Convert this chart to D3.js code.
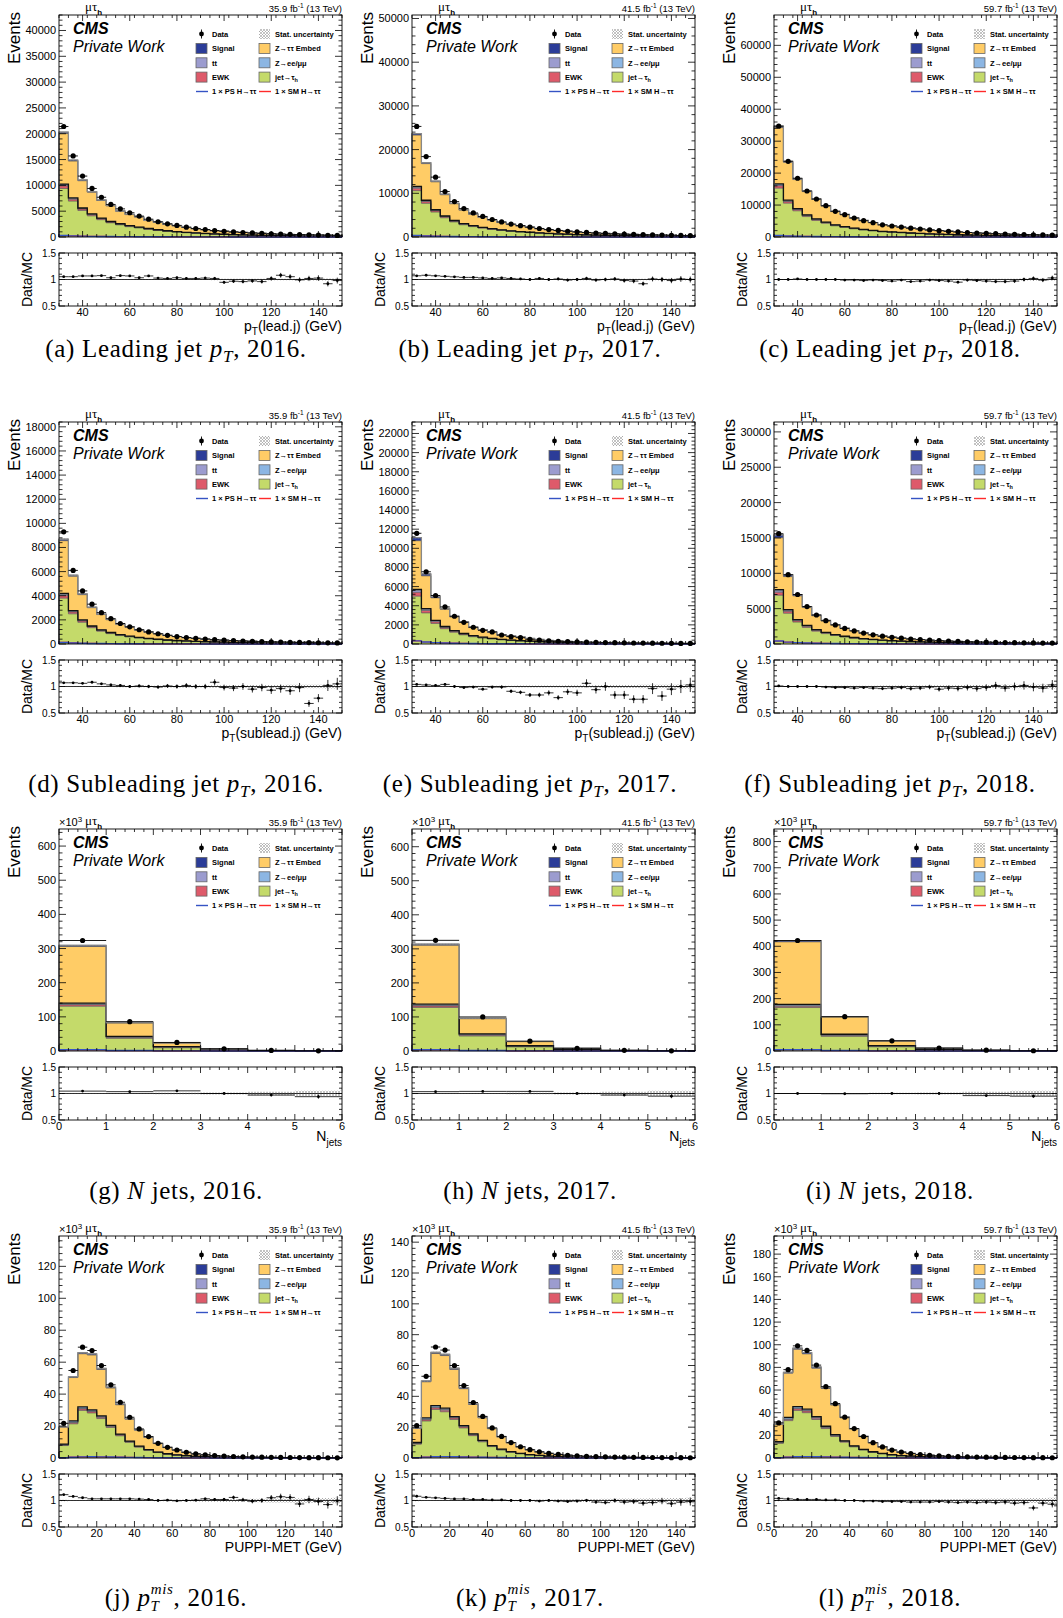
<!DOCTYPE html>
<html><head><meta charset="utf-8">
<script src="https://cdn.jsdelivr.net/npm/d3@7"></script>
<style>body{margin:0;background:#fff} svg text{fill:#000}</style>
</head><body><svg id="c" width="1063" height="1618" font-family="Liberation Sans, Arial, sans-serif"></svg>
<script>
// ---------------- bin edges & tick labels ----------------
const ptEdges=[30,34,38,42,46,50,54,58,62,66,70,74,78,82,86,90,94,98,102,106,110,114,118,122,126,130,134,138,142,146,150];
const metEdges=[0,5,10,15,20,25,30,35,40,45,50,55,60,65,70,75,80,85,90,95,100,105,110,115,120,125,130,135,140,145,150];
const njEdges=[0,1,2,3,4,5,6];
const ptTicks=[40,60,80,100,120,140];
const metTicks=[0,20,40,60,80,100,120,140];
const njTicks=[0,1,2,3,4,5,6];
const ratioTicks=[0.5,1,1.5];
const yTicksA=[0,5000,10000,15000,20000,25000,30000,35000,40000];
const yTicksB=[0,10000,20000,30000,40000,50000];
const yTicksC=[0,10000,20000,30000,40000,50000,60000];
const yTicksD=[0,2000,4000,6000,8000,10000,12000,14000,16000,18000];
const yTicksE=[0,2000,4000,6000,8000,10000,12000,14000,16000,18000,20000,22000];
const yTicksF=[0,5000,10000,15000,20000,25000,30000];
const yTicksG=[0,100,200,300,400,500,600];
const yTicksI=[0,100,200,300,400,500,600,700,800];
const yTicksJ=[0,20,40,60,80,100,120];
const yTicksK=[0,20,40,60,80,100,120,140];
const yTicksL=[0,20,40,60,80,100,120,140,160,180];

// ---------------- leading jet pT ----------------
const leadData16=[21400,15700,11800,9400,7700,6300,5450,4700,4050,3450,2950,2550,2250,1900,1650,1450,1250,1100,980,870,780,700,630,570,510,460,420,380,340,310];
const leadRatio16=[1.053,1.053,1.067,1.067,1.073,1.033,1.073,1.067,1.033,1.067,1.027,1.02,1.033,1.02,1.02,1.027,1.02,0.947,0.967,0.96,0.973,0.96,1.02,1.08,1.053,0.993,1.02,1.027,0.92,0.98];
const leadFakes16=[9400,6950,5150,4100,3350,2750,2350,2000,1750,1500,1280,1100,960,820,710,620,540,480,430,380,340,300,270,245,220,200,180,165,150,135];
const leadEwk16=[500,370,270,215,175,145,125,110,95,80,70,62,54,46,40,35,30,27,25,22,20,18,16,14,13,12,11,10,9,8];
const leadTT16=[150,110,85,70,58,50,44,40,35,31,28,25,22,19,17,15,14,12,11,10,9,8,7,7,6,6,5,5,5,4];
const leadZll16=[200,150,110,90,72,60,50,43,37,32,27,23,20,17,15,13,11,10,9,8,7,6,6,5,5,4,4,4,3,3];
const leadSig16=[280,210,160,130,105,88,75,64,56,48,41,36,31,27,23,20,18,16,14,12,11,10,9,8,7,6,6,5,5,4];

const leadData17=[25300,18400,13700,10400,8100,6500,5500,4700,4000,3450,2950,2600,2250,1950,1700,1500,1320,1170,1040,920,820,730,650,590,530,480,430,390,350,320];
const leadRatio17=[1.07,1.08,1.07,1.06,1.05,1.04,1.04,1.03,1.02,1.03,1.02,1.01,1.0,1.02,1.0,1.01,0.99,1.0,1.02,0.99,1.0,1.01,0.98,0.97,0.92,1.01,1.0,0.98,1.01,1.0];
const leadFakes17=[10600,7700,5700,4400,3450,2800,2380,2030,1740,1500,1290,1140,990,860,750,660,580,515,460,410,365,325,290,262,236,214,192,175,158,144];
const leadEwk17=[560,410,300,230,180,145,122,104,90,77,66,58,50,44,38,34,30,26,23,21,19,17,15,13,12,11,10,9,8,7];
const leadTT17=[180,130,100,80,66,56,49,43,38,33,29,26,23,20,18,16,14,13,12,11,10,9,8,7,7,6,6,5,5,4];
const leadZll17=[240,175,130,100,80,65,55,47,40,35,30,26,22,19,17,15,13,11,10,9,8,7,6,6,5,5,4,4,4,3];
const leadSig17=[330,245,185,145,115,95,80,68,58,50,43,38,33,28,25,22,19,17,15,13,12,10,9,8,7,7,6,6,5,5];

const leadData18=[34700,23700,18400,14400,11900,9800,8050,7000,5950,5100,4500,3800,3450,3100,2750,2500,2200,1990,1780,1580,1400,1260,1150,1040,940,850,780,710,640,590];
const leadRatio18=[1.0,1.0,1.01,1.0,1.0,1.0,1.0,0.99,0.99,0.98,0.99,0.98,0.97,0.99,0.96,0.97,0.99,0.98,0.97,0.95,0.99,0.98,0.97,0.96,0.96,0.97,1.0,1.02,0.99,1.03];
const leadFakes18=[15300,10600,8200,6400,5200,4300,3500,3000,2550,2180,1900,1600,1450,1300,1150,1040,910,820,730,650,575,515,470,425,385,348,318,290,262,240];
const leadEwk18=[750,520,400,315,260,215,175,150,128,110,97,82,74,66,59,53,47,42,38,34,30,27,24,22,20,18,16,15,14,12];
const leadTT18=[240,170,130,100,84,70,58,50,43,37,32,28,25,22,20,18,16,14,13,11,10,9,8,8,7,6,6,5,5,4];
const leadZll18=[330,230,180,140,115,95,78,67,57,49,43,36,33,29,26,24,21,19,17,15,13,12,11,10,9,8,7,7,6,6];
const leadSig18=[450,310,240,190,155,128,105,91,78,67,59,50,45,40,36,33,29,26,23,21,18,16,15,14,12,11,10,9,8,8];

// ---------------- subleading jet pT ----------------
const subData16=[9300,6100,4400,3300,2600,2100,1700,1420,1180,1000,850,720,620,540,470,410,360,320,280,250,220,195,175,158,142,128,115,104,95,86];
const subRatio16=[1.07,1.07,1.06,1.08,1.05,1.03,1.02,1.0,1.01,1.0,0.99,1.01,1.0,1.02,1.0,1.0,1.08,0.98,0.97,1.0,0.95,0.98,0.93,0.96,0.92,0.98,0.68,0.78,1.02,1.05];
const subFakes16=[3800,2500,1800,1350,1060,860,700,585,490,415,355,300,260,226,197,172,151,134,118,105,93,83,74,67,60,54,49,44,40,36];
const subEwk16=[230,150,110,82,65,52,42,35,29,25,21,18,16,14,12,10,9,8,7,6,6,5,5,4,4,3,3,3,3,2];
const subTT16=[80,55,40,30,24,20,16,14,12,10,9,8,7,6,5,5,4,4,3,3,3,3,2,2,2,2,2,2,2,1];
const subZll16=[90,60,43,32,25,20,16,14,11,10,8,7,6,5,5,4,4,3,3,3,2,2,2,2,2,2,1,1,1,1];
const subSig16=[130,85,62,46,36,29,24,20,16,14,12,10,9,8,7,6,5,5,4,4,3,3,3,3,2,2,2,2,2,2];

const subData17=[11570,7550,5070,3880,2900,2270,1750,1430,1260,940,770,660,490,400,330,290,250,220,195,172,152,135,120,107,96,87,79,72,65,59];
const subRatio17=[1.04,1.03,1.02,1.04,1.0,0.98,0.99,0.95,0.99,0.99,0.91,0.89,0.84,0.84,0.88,0.79,0.9,0.88,1.06,0.94,1.0,0.84,0.84,0.76,0.76,0.96,0.82,0.95,1.0,1.03];
const subFakes17=[5000,3250,2150,1600,1230,960,760,620,520,430,360,310,265,225,195,170,148,130,114,101,89,79,70,63,56,50,45,41,37,33];
const subEwk17=[400,250,170,125,95,75,58,48,40,33,28,24,20,17,15,13,11,10,9,8,7,6,5,5,4,4,4,3,3,3];
const subTT17=[200,130,90,68,52,41,33,27,23,19,16,14,12,10,9,8,7,6,5,5,4,4,3,3,3,3,2,2,2,2];
const subZll17=[110,72,50,37,28,22,18,15,12,10,9,7,6,5,5,4,4,3,3,3,2,2,2,2,2,2,1,1,1,1];
const subSig17=[330,210,145,108,82,64,50,41,34,28,23,19,16,13,11,10,9,8,7,6,5,5,4,4,3,3,3,3,2,2];

const subData18=[15600,9800,7000,5300,4100,3300,2700,2200,1850,1550,1300,1100,950,820,710,620,540,470,410,360,320,285,255,228,205,185,167,150,136,124];
const subRatio18=[1.01,1.0,1.0,1.0,1.0,0.99,0.98,0.98,0.97,0.98,0.97,0.96,0.97,0.98,0.96,0.97,0.99,0.95,0.97,0.96,0.98,0.96,0.98,1.02,0.97,1.0,1.02,0.99,0.97,1.03];
const subFakes18=[6900,4350,3100,2350,1820,1470,1200,980,825,690,580,490,425,365,318,277,242,210,183,161,143,127,114,102,92,83,75,67,61,55];
const subEwk18=[420,265,190,145,112,90,74,60,51,43,36,30,26,23,20,17,15,13,11,10,9,8,7,6,6,5,5,4,4,3];
const subTT18=[220,140,100,76,59,48,39,32,27,22,19,16,14,12,10,9,8,7,6,5,5,4,4,3,3,3,2,2,2,2];
const subZll18=[150,95,68,52,40,32,26,21,18,15,13,11,9,8,7,6,5,5,4,4,3,3,2,2,2,2,2,1,1,1];
const subSig18=[420,265,190,145,112,90,74,60,51,43,36,30,26,23,20,17,15,13,11,10,9,8,7,6,6,5,5,4,4,3];

// ---------------- N jets (x10^3) ----------------
const njData16=[323.5,86,25,6.5,1.7,0.6];
const njRatio16=[1.045,1.035,1.05,1.0,0.97,0.94];
const njFakes16=[131,37,9.5,2.8,0.8,0.3];
const njEwk16=[4.5,2.5,1.2,0.4,0.1,0.04];
const njTT16=[1.5,2,1.5,0.7,0.25,0.1];
const njZll16=[3,1.2,0.4,0.1,0.03,0.01];
const njSig16=[3.5,1.3,0.5,0.15,0.05,0.02];

const njData17=[325,100,29,8,2,0.6];
const njRatio17=[1.035,1.04,1.04,1.0,0.97,0.95];
const njFakes17=[128,44,12,3,0.9,0.3];
const njEwk17=[4,2.5,1.3,0.4,0.1,0.04];
const njTT17=[1.5,2.2,1.6,0.8,0.3,0.1];
const njZll17=[4,1.5,0.5,0.15,0.04,0.01];
const njSig17=[3.5,1.4,0.5,0.15,0.05,0.02];

const njData18=[422,131,39,11,3,0.9];
const njRatio18=[1.0,0.995,1.0,1.0,0.96,0.95];
const njFakes18=[166,56,16,4.5,1.3,0.4];
const njEwk18=[5,3,1.6,0.5,0.15,0.05];
const njTT18=[2,3,2,1,0.35,0.12];
const njZll18=[5,2,0.6,0.2,0.05,0.02];
const njSig18=[5,1.8,0.6,0.2,0.06,0.02];

// ---------------- PUPPI-MET (x10^3) ----------------
const metData16=[21.7,54.8,69.4,67.3,57.9,45.8,34.9,25.5,18.2,13.4,9.2,6.7,5.0,3.6,2.6,2.0,1.55,1.2,0.95,0.75,0.6,0.5,0.42,0.35,0.3,0.25,0.21,0.18,0.15,0.13];
const metRatio16=[1.11,1.077,1.052,1.032,1.032,1.032,1.032,1.032,1.026,1.019,1.0,1.006,0.994,1.0,1.006,1.032,1.019,1.019,1.058,1.013,0.987,1.0,1.052,1.071,1.058,0.935,1.019,0.981,0.923,0.994];
const metFakes16=[7.8,21.4,29.8,28.2,24.7,19.1,13.9,9.8,6.8,4.8,3.4,2.4,1.75,1.3,0.95,0.72,0.56,0.44,0.35,0.28,0.23,0.19,0.16,0.13,0.11,0.1,0.085,0.075,0.065,0.057];
const metEwk16=[0.3,0.7,0.9,0.9,0.8,0.65,0.5,0.38,0.28,0.21,0.16,0.12,0.09,0.07,0.055,0.045,0.037,0.03,0.025,0.02,0.017,0.015,0.013,0.011,0.01,0.009,0.008,0.007,0.006,0.005];
const metTT16=[0.1,0.25,0.35,0.38,0.36,0.32,0.27,0.22,0.18,0.15,0.12,0.1,0.08,0.065,0.055,0.045,0.038,0.032,0.027,0.023,0.02,0.017,0.015,0.013,0.011,0.01,0.009,0.008,0.007,0.006];
const metZll16=[0.5,0.9,0.9,0.7,0.5,0.35,0.25,0.17,0.12,0.08,0.06,0.04,0.03,0.022,0.016,0.012,0.01,0.008,0.006,0.005,0.004,0.003,0.003,0.002,0.002,0.002,0.001,0.001,0.001,0.001];
const metSig16=[0.2,0.5,0.7,0.75,0.7,0.6,0.5,0.4,0.3,0.24,0.18,0.14,0.11,0.08,0.06,0.05,0.04,0.03,0.025,0.02,0.017,0.014,0.012,0.01,0.008,0.007,0.006,0.005,0.004,0.004];

const metData17=[21,53,72,70,60,47,36,27,19.5,14,10,7.3,5.4,4,3,2.3,1.8,1.4,1.1,0.9,0.75,0.62,0.52,0.44,0.37,0.31,0.27,0.23,0.2,0.17];
const metRatio17=[1.08,1.06,1.05,1.04,1.03,1.03,1.02,1.02,1.01,1.01,1.0,1.0,1.0,0.99,1.0,0.99,0.98,0.99,1.0,0.97,0.96,1.0,0.97,0.98,0.95,0.96,0.99,0.94,0.97,0.98];
const metFakes17=[9,24,31.5,30,25,19.5,14.5,10.5,7.4,5.2,3.7,2.7,2,1.5,1.1,0.85,0.66,0.52,0.41,0.33,0.27,0.23,0.19,0.16,0.14,0.12,0.1,0.085,0.075,0.065];
const metEwk17=[0.35,0.8,1.05,1.05,0.9,0.75,0.58,0.44,0.32,0.24,0.18,0.14,0.1,0.08,0.063,0.052,0.043,0.035,0.029,0.023,0.02,0.017,0.015,0.013,0.011,0.01,0.009,0.008,0.007,0.006];
const metTT17=[0.12,0.29,0.4,0.44,0.41,0.37,0.31,0.25,0.21,0.17,0.14,0.115,0.09,0.075,0.063,0.052,0.044,0.037,0.031,0.026,0.023,0.02,0.017,0.015,0.013,0.011,0.01,0.009,0.008,0.007];
const metZll17=[0.6,1.0,1.0,0.8,0.58,0.4,0.29,0.2,0.14,0.09,0.07,0.05,0.035,0.025,0.018,0.014,0.011,0.009,0.007,0.006,0.005,0.004,0.003,0.003,0.002,0.002,0.002,0.001,0.001,0.001];
const metSig17=[0.23,0.58,0.8,0.86,0.8,0.69,0.58,0.46,0.35,0.28,0.21,0.16,0.13,0.09,0.07,0.058,0.046,0.035,0.029,0.023,0.02,0.016,0.014,0.012,0.009,0.008,0.007,0.006,0.005,0.005];

const metData18=[31,78,99,95,82,63,48,36,26,19,13.5,9.8,7,5.2,3.9,3,2.4,1.9,1.5,1.2,1,0.85,0.7,0.6,0.5,0.43,0.37,0.32,0.28,0.24];
const metRatio18=[1.04,1.03,1.02,1.02,1.02,1.01,1.01,1.0,1.0,0.99,0.99,0.98,0.98,0.98,0.97,0.97,0.97,0.98,0.97,0.96,0.97,0.96,0.97,0.96,0.97,0.95,0.96,0.86,0.95,0.93];
const metFakes18=[13,33,42,40,34,26,19,14,9.8,7,5,3.6,2.6,1.95,1.45,1.1,0.86,0.68,0.54,0.43,0.35,0.29,0.24,0.2,0.17,0.145,0.125,0.11,0.095,0.082];
const metEwk18=[0.45,1.1,1.4,1.4,1.2,0.95,0.75,0.57,0.42,0.31,0.24,0.18,0.13,0.1,0.08,0.067,0.055,0.045,0.037,0.03,0.026,0.022,0.019,0.016,0.014,0.012,0.011,0.01,0.009,0.008];
const metTT18=[0.17,0.4,0.55,0.6,0.57,0.5,0.42,0.34,0.28,0.23,0.19,0.16,0.12,0.1,0.085,0.07,0.06,0.05,0.042,0.036,0.031,0.027,0.023,0.02,0.017,0.015,0.013,0.012,0.011,0.01];
const metZll18=[0.8,1.4,1.4,1.1,0.8,0.56,0.4,0.28,0.19,0.13,0.1,0.07,0.05,0.035,0.025,0.02,0.015,0.012,0.01,0.008,0.007,0.006,0.005,0.004,0.003,0.003,0.002,0.002,0.002,0.001];
const metSig18=[0.3,0.8,1.1,1.2,1.1,0.95,0.8,0.63,0.48,0.38,0.29,0.22,0.17,0.13,0.1,0.08,0.064,0.05,0.04,0.032,0.027,0.022,0.019,0.016,0.013,0.011,0.01,0.009,0.008,0.007];

// relative MC stat. uncertainty
const uncLead=[0.004,0.004,0.005,0.005,0.006,0.006,0.007,0.007,0.008,0.008,0.009,0.009,0.01,0.01,0.011,0.011,0.012,0.012,0.013,0.013,0.014,0.014,0.015,0.015,0.016,0.016,0.017,0.017,0.018,0.018];
const uncSub=[0.006,0.007,0.008,0.009,0.01,0.011,0.012,0.013,0.014,0.015,0.016,0.017,0.018,0.019,0.02,0.021,0.022,0.023,0.024,0.025,0.026,0.027,0.028,0.03,0.031,0.032,0.034,0.035,0.037,0.038];
const uncNj=[0.003,0.006,0.012,0.02,0.035,0.05];
const uncMet=[0.012,0.006,0.005,0.005,0.005,0.006,0.007,0.008,0.009,0.01,0.012,0.014,0.016,0.018,0.02,0.022,0.024,0.026,0.028,0.03,0.032,0.034,0.036,0.038,0.04,0.042,0.044,0.046,0.048,0.05];

const lumis=['35.9','41.5','59.7'];
const years=['2016','2017','2018'];
const COL={sig:'#2b3c98',tt:'#9c9ccf',ewk:'#de5a6a',ztt:'#ffcc66',zll:'#8cb6e3',fakes:'#c4da6a'};

// ---------------- layout ----------------
const colX=[59,412,774], rowY=[0,407,814,1221], W=283;
const capX=[176,530,890], capY=[357,792,1199,1606];
const SERIF='"Liberation Serif","DejaVu Serif",serif';
const SANS='"Liberation Sans",Arial,sans-serif';

const svg=d3.select('#c');
svg.append('rect').attr('width',1063).attr('height',1618).attr('fill','#fff');
const defs=svg.append('defs');
const pat=defs.append('pattern').attr('id','hatch').attr('patternUnits','userSpaceOnUse').attr('width',3).attr('height',3);
pat.append('path').attr('d','M0,0L3,3M3,0L0,3').attr('stroke','#9a9a9a').attr('stroke-width',0.6);

function P(id,col,row,type,d,yticks,ymax,yminor){return {id,col,row,type,...d,yticks,ymax,yminor};}
function set(data,ratio,fakes,ewk,tt,zll,sig){return {data,ratio,fakes,ewk,tt,zll,sig};}

const panels=[
 P('a',0,0,'lead',set(leadData16,leadRatio16,leadFakes16,leadEwk16,leadTT16,leadZll16,leadSig16),yTicksA,43000,1000),
 P('b',1,0,'lead',set(leadData17,leadRatio17,leadFakes17,leadEwk17,leadTT17,leadZll17,leadSig17),yTicksB,50800,2000),
 P('c',2,0,'lead',set(leadData18,leadRatio18,leadFakes18,leadEwk18,leadTT18,leadZll18,leadSig18),yTicksC,69500,2000),
 P('d',0,1,'sub',set(subData16,subRatio16,subFakes16,subEwk16,subTT16,subZll16,subSig16),yTicksD,18400,400),
 P('e',1,1,'sub',set(subData17,subRatio17,subFakes17,subEwk17,subTT17,subZll17,subSig17),yTicksE,23200,400),
 P('f',2,1,'sub',set(subData18,subRatio18,subFakes18,subEwk18,subTT18,subZll18,subSig18),yTicksF,31400,1000),
 P('g',0,2,'nj',set(njData16,njRatio16,njFakes16,njEwk16,njTT16,njZll16,njSig16),yTicksG,650,20),
 P('h',1,2,'nj',set(njData17,njRatio17,njFakes17,njEwk17,njTT17,njZll17,njSig17),yTicksG,652,20),
 P('i',2,2,'nj',set(njData18,njRatio18,njFakes18,njEwk18,njTT18,njZll18,njSig18),yTicksI,848,20),
 P('j',0,3,'met',set(metData16,metRatio16,metFakes16,metEwk16,metTT16,metZll16,metSig16),yTicksJ,139,4),
 P('k',1,3,'met',set(metData17,metRatio17,metFakes17,metEwk17,metTT17,metZll17,metSig17),yTicksK,144,4),
 P('l',2,3,'met',set(metData18,metRatio18,metFakes18,metEwk18,metTT18,metZll18,metSig18),yTicksL,196,4)
];

const TYPES={
 lead:{edges:ptEdges,xticks:ptTicks,dom:[30,150],minor:4,unc:uncLead,k:1},
 sub:{edges:ptEdges,xticks:ptTicks,dom:[30,150],minor:4,unc:uncSub,k:1},
 nj:{edges:njEdges,xticks:njTicks,dom:[0,6],minor:0.2,unc:uncNj,k:1000},
 met:{edges:metEdges,xticks:metTicks,dom:[0,150],minor:5,unc:uncMet,k:1000}
};

function drawPanel(p){
 const T=TYPES[p.type];
 const L=colX[p.col], R=rowY[p.row];
 const g=svg.append('g');
 const x=d3.scaleLinear().domain(T.dom).range([L,L+W]);
 const y=d3.scaleLinear().domain([0,p.ymax]).range([R+237,R+15]);
 const yr=d3.scaleLinear().domain([0.5,1.5]).range([R+306,R+253]);
 const E=T.edges, n=p.data.length;
 const total=p.data.map((d,i)=>d/p.ratio[i]);
 const ztt=total.map((t,i)=>Math.max(0,t-p.fakes[i]-p.ewk[i]-p.tt[i]-p.zll[i]-p.sig[i]));
 const layers=[
  {v:p.fakes,c:COL.fakes},{v:p.ewk,c:COL.ewk},{v:p.tt,c:COL.tt},{v:p.zll,c:COL.zll},{v:ztt,c:COL.ztt},{v:p.sig,c:COL.sig}
 ];
 let base=new Array(n).fill(0);
 layers.forEach(l=>{l.lo=base;l.hi=base.map((b,i)=>b+l.v[i]);base=l.hi;});
 const pts=(lo,hi)=>{const a=[];for(let i=0;i<n;i++){a.push({x:E[i],lo:lo[i],hi:hi[i]});a.push({x:E[i+1],lo:lo[i],hi:hi[i]});}return a;};
 const area=d3.area().x(d=>x(d.x)).y0(d=>y(d.lo)).y1(d=>y(d.hi));
 const line=d3.line().x(d=>x(d.x)).y(d=>y(d.hi));
 layers.forEach(l=>{
  g.append('path').attr('d',area(pts(l.lo,l.hi))).attr('fill',l.c).attr('stroke','none');
 });
 layers.forEach((l,li)=>{
  const closed=[{x:E[0],hi:0},...pts(l.lo,l.hi),{x:E[n],hi:0}];
  g.append('path').attr('d',line(closed)).attr('fill','none')
   .attr('stroke',li===3?'#111':'#555').attr('stroke-width',li===3?1.3:0.7);
 });
 // stat. uncertainty band
 const uLo=total.map((t,i)=>t*(1-T.unc[i])), uHi=total.map((t,i)=>t*(1+T.unc[i]));
 g.append('path').attr('d',area(pts(uLo,uHi))).attr('fill','url(#hatch)');
 g.append('path').attr('d',line([{x:E[0],hi:0},...pts(total,total),{x:E[n],hi:0}])).attr('fill','none').attr('stroke','#888').attr('stroke-width',1.2);
 // signal lines (unstacked)
 const sl=[{x:E[0],hi:0},...pts(p.sig,p.sig),{x:E[n],hi:0}];
 g.append('path').attr('d',line(sl)).attr('fill','none').attr('stroke','#ff2a2a').attr('stroke-width',1.2);
 g.append('path').attr('d',line(sl)).attr('fill','none').attr('stroke','#3553c4').attr('stroke-width',1.4);
 // data points
 for(let i=0;i<n;i++){
  const cx=x((E[i]+E[i+1])/2), v=p.data[i];
  const err=Math.sqrt(v*T.k)/T.k;
  g.append('line').attr('x1',x(E[i])).attr('x2',x(E[i+1])).attr('y1',y(v)).attr('y2',y(v)).attr('stroke','#000').attr('stroke-width',0.9);
  g.append('line').attr('x1',cx).attr('x2',cx).attr('y1',y(v+err)).attr('y2',y(Math.max(0,v-err))).attr('stroke','#000').attr('stroke-width',0.9);
  g.append('circle').attr('cx',cx).attr('cy',y(v)).attr('r',2.6).attr('fill','#000');
 }
 // frames
 g.append('rect').attr('x',L).attr('y',R+15).attr('width',W).attr('height',222).attr('fill','none').attr('stroke','#000').attr('stroke-width',0.9);
 g.append('rect').attr('x',L).attr('y',R+253).attr('width',W).attr('height',53).attr('fill','none').attr('stroke','#000').attr('stroke-width',0.9);
 // ticks
 let tp='';
 const xMinor=[];for(let v=T.dom[0];v<=T.dom[1]+1e-9;v+=T.minor)xMinor.push(+v.toFixed(4));
 const isMajor=v=>T.xticks.some(t=>Math.abs(t-v)<1e-6);
 xMinor.forEach(v=>{
  const px=x(v), lm=isMajor(v)?6:3;
  tp+=`M${px},${R+237}v${-lm}M${px},${R+15}v${lm}`;
  tp+=`M${px},${R+306}v${-lm}M${px},${R+253}v${lm}`;
 });
 T.xticks.forEach(v=>{if(!xMinor.some(m=>Math.abs(m-v)<1e-6)){const px=x(v);tp+=`M${px},${R+237}v-6M${px},${R+15}v6M${px},${R+306}v-6M${px},${R+253}v6`;}});
 for(let v=0;v<=p.ymax+1e-9;v+=p.yminor){
  const py=y(v), maj=p.yticks.some(t=>Math.abs(t-v)<1e-6), lm=maj?7:3.5;
  tp+=`M${L},${py}h${lm}M${L+W},${py}h${-lm}`;
 }
 for(let v=0.5;v<=1.5001;v+=0.1){
  const py=yr(v), maj=ratioTicks.some(t=>Math.abs(t-v)<1e-6), lm=maj?6:3;
  tp+=`M${L},${py}h${lm}M${L+W},${py}h${-lm}`;
 }
 g.append('path').attr('d',tp).attr('stroke','#000').attr('stroke-width',0.8).attr('fill','none');
 // y tick labels
 p.yticks.forEach(v=>{
  g.append('text').attr('x',L-3).attr('y',y(v)+4).attr('text-anchor','end').attr('font-size',11).text(v);
 });
 ratioTicks.forEach(v=>{
  g.append('text').attr('x',L-3).attr('y',yr(v)+3.5).attr('text-anchor','end').attr('font-size',10).text(v);
 });
 T.xticks.forEach(v=>{
  g.append('text').attr('x',x(v)).attr('y',R+316).attr('text-anchor','middle').attr('font-size',11).text(v);
 });
 // ratio panel content
 const rlo=T.unc.map(u=>1-u), rhi=T.unc.map(u=>1+u);
 const rArea=d3.area().x(d=>x(d.x)).y0(d=>yr(d.lo)).y1(d=>yr(d.hi));
 g.append('path').attr('d',rArea(pts(rlo,rhi))).attr('fill','url(#hatch)');
 g.append('line').attr('x1',L).attr('x2',L+W).attr('y1',yr(1)).attr('y2',yr(1)).attr('stroke','#000').attr('stroke-width',0.8);
 for(let i=0;i<n;i++){
  const cx=x((E[i]+E[i+1])/2), r=p.ratio[i];
  const e=r/Math.sqrt(p.data[i]*T.k);
  g.append('line').attr('x1',x(E[i])).attr('x2',x(E[i+1])).attr('y1',yr(r)).attr('y2',yr(r)).attr('stroke','#000').attr('stroke-width',0.8);
  g.append('line').attr('x1',cx).attr('x2',cx).attr('y1',yr(Math.min(1.5,r+e))).attr('y2',yr(Math.max(0.5,r-e))).attr('stroke','#000').attr('stroke-width',0.8);
  g.append('circle').attr('cx',cx).attr('cy',yr(r)).attr('r',1.4).attr('fill','#000');
 }
 // axis titles
 g.append('text').attr('transform',`translate(${L-39},${R+12}) rotate(-90)`).attr('text-anchor','end').attr('font-size',17).text('Events');
 g.append('text').attr('transform',`translate(${L-27},${R+279.5}) rotate(-90)`).attr('text-anchor','middle').attr('font-size',14).text('Data/MC');
 const xt=g.append('text').attr('x',L+W).attr('y',R+331).attr('text-anchor','end').attr('font-size',14);
 if(p.type==='lead'||p.type==='sub'){
  xt.append('tspan').text('p');xt.append('tspan').attr('font-size',10).attr('dy',4).text('T');
  xt.append('tspan').attr('dy',-4).text(p.type==='lead'?'(lead.j) (GeV)':'(sublead.j) (GeV)');
 } else if(p.type==='nj'){
  xt.attr('y',R+327);xt.append('tspan').text('N');xt.append('tspan').attr('font-size',10).attr('dy',5).text('jets');
 } else {xt.text('PUPPI-MET (GeV)');}
 // top labels
 if(p.type==='nj'||p.type==='met'){
  const sc=g.append('text').attr('x',L).attr('y',R+12).attr('font-size',11);
  sc.append('tspan').text('×10');sc.append('tspan').attr('font-size',8).attr('dy',-4).text('3');
 }
 const ch=g.append('text').attr('x',L+26).attr('y',R+11).attr('font-size',13).style('font-family',SERIF);
 ch.append('tspan').text('μτ');ch.append('tspan').attr('font-size',8).attr('font-weight','bold').style('font-family',SANS).attr('dy',4).text('h');
 const lu=g.append('text').attr('x',L+W).attr('y',R+12).attr('text-anchor','end').attr('font-size',9.5);
 lu.append('tspan').text(lumis[p.col]+' fb');lu.append('tspan').attr('font-size',6.5).attr('dy',-4).text('-1');lu.append('tspan').attr('dy',4).text(' (13 TeV)');
 g.append('text').attr('x',L+14).attr('y',R+34).attr('font-size',16).attr('font-weight','bold').attr('font-style','italic').text('CMS');
 g.append('text').attr('x',L+14).attr('y',R+52).attr('font-size',16).attr('font-style','italic').text('Private Work');
 // legend
 const ly=[R+34,R+48.4,R+62.8,R+77.1,R+91.5], c1=L+137, c2=L+200;
 const lt=(xx,yy,s,sub)=>{const t=g.append('text').attr('x',xx+16).attr('y',yy+2.7).attr('font-size',7.5).attr('font-weight','bold');t.append('tspan').text(s);if(sub){t.append('tspan').attr('font-size',5.5).attr('dy',2.5).text(sub);}};
 const box=(xx,yy,c)=>g.append('rect').attr('x',xx).attr('y',yy-5).attr('width',11).attr('height',10).attr('fill',c).attr('stroke','#666').attr('stroke-width',0.8);
 g.append('circle').attr('cx',c1+5.5).attr('cy',ly[0]).attr('r',2.4).attr('fill','#000');
 g.append('line').attr('x1',c1+5.5).attr('x2',c1+5.5).attr('y1',ly[0]-4.5).attr('y2',ly[0]+4.5).attr('stroke','#000').attr('stroke-width',0.9);
 lt(c1,ly[0],'Data');
 g.append('rect').attr('x',c2).attr('y',ly[0]-5).attr('width',11).attr('height',10).attr('fill','url(#hatch)');
 lt(c2,ly[0],'Stat. uncertainty');
 box(c1,ly[1],COL.sig);lt(c1,ly[1],'Signal');
 box(c2,ly[1],COL.ztt);lt(c2,ly[1],'Z→ττ Embed');
 box(c1,ly[2],COL.tt);lt(c1,ly[2],'tt');
 box(c2,ly[2],COL.zll);lt(c2,ly[2],'Z→ee/μμ');
 box(c1,ly[3],COL.ewk);lt(c1,ly[3],'EWK');
 box(c2,ly[3],COL.fakes);lt(c2,ly[3],'jet→τ','h');
 g.append('line').attr('x1',c1).attr('x2',c1+12).attr('y1',ly[4]).attr('y2',ly[4]).attr('stroke','#3553c4').attr('stroke-width',1.4);
 lt(c1,ly[4],'1 × PS H→ττ');
 g.append('line').attr('x1',c2).attr('x2',c2+12).attr('y1',ly[4]).attr('y2',ly[4]).attr('stroke','#ff2a2a').attr('stroke-width',1.4);
 lt(c2,ly[4],'1 × SM H→ττ');
 // caption
 const cap=svg.append('text').attr('x',capX[p.col]).attr('y',capY[p.row]).attr('text-anchor','middle')
   .style('font-family',SERIF).style('letter-spacing','0.7px').attr('font-size',25);
 const yr_=years[p.col];
 if(p.type==='lead'||p.type==='sub'){
  cap.append('tspan').text(`(${p.id}) ${p.type==='lead'?'Leading':'Subleading'} jet `);
  cap.append('tspan').attr('font-style','italic').text('p');
  cap.append('tspan').attr('font-style','italic').attr('font-size',17).attr('dy',5).text('T');
  cap.append('tspan').attr('dy',-5).text(`, ${yr_}.`);
 } else if(p.type==='nj'){
  cap.append('tspan').text(`(${p.id}) `);
  cap.append('tspan').attr('font-style','italic').text('N');
  cap.append('tspan').text(` jets, ${yr_}.`);
 } else {
  cap.append('tspan').text(`(${p.id}) `);
  cap.append('tspan').attr('font-style','italic').text('p');
  cap.append('tspan').attr('font-style','italic').attr('font-size',15).attr('dy',5).text('T');
  cap.append('tspan').attr('font-style','italic').attr('font-size',15).attr('dx',-9).attr('dy',-17).text('mis');
  cap.append('tspan').attr('dy',12).text(`, ${yr_}.`);
 }
}
panels.forEach(drawPanel);
</script></body></html>
